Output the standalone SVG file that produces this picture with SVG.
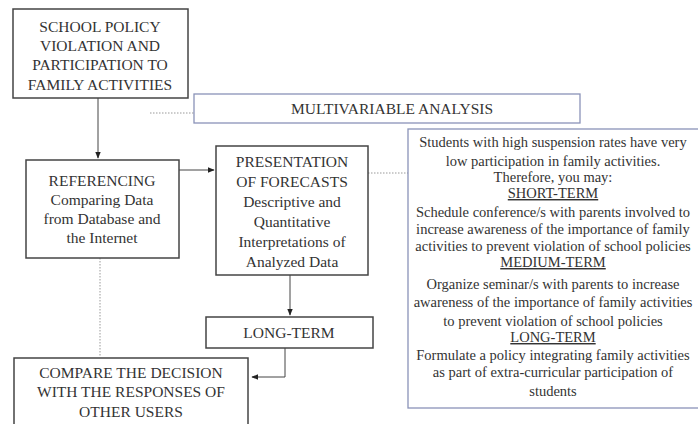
<svg xmlns="http://www.w3.org/2000/svg" width="698" height="424" viewBox="0 0 698 424">
<defs>
<style>
.box{fill:#fff;stroke:#444;stroke-width:1.5}
.bbox{fill:#fff;stroke:#8a93b8;stroke-width:1.3}
.t{font-family:'Liberation Serif','Times New Roman','DejaVu Serif',serif;font-size:15.5px;fill:#333;text-anchor:middle}
.s{font-family:'Liberation Serif','Times New Roman','DejaVu Serif',serif;font-size:14.5px;fill:#333;text-anchor:middle}
.ln{fill:none;stroke:#444;stroke-width:1}
.dot{fill:none;stroke:#999;stroke-width:1;stroke-dasharray:1.5 1.5}
</style>
<marker id="ah" viewBox="0 0 10 10" refX="9" refY="5" markerWidth="7" markerHeight="7" orient="auto">
<path d="M0,1 L10,5 L0,9 z" fill="#222"/>
</marker>
</defs>
<rect width="698" height="424" fill="#fff"/>
<g id="connectors">
<path class="ln" d="M98,98 V158" marker-end="url(#ah)"/>
<path class="ln" d="M179,170 H214" marker-end="url(#ah)"/>
<path class="ln" d="M290,275 V315" marker-end="url(#ah)"/>
<path class="ln" d="M285,348 V377 H252" stroke="#888" marker-end="url(#ah)"/>
<path class="dot" d="M150,113 H194"/>
<path class="dot" d="M368,173 H408"/>
<path class="dot" d="M100,258 V356"/>
</g>
<g id="n1">
<rect class="box" x="13" y="9" width="175" height="89" stroke-width="2"/>
<text class="t" x="100" y="32">SCHOOL POLICY</text>
<text class="t" x="100" y="51">VIOLATION AND</text>
<text class="t" x="100" y="70">PARTICIPATION TO</text>
<text class="t" x="100" y="90">FAMILY ACTIVITIES</text>
</g>
<g id="n2">
<rect class="bbox" x="194" y="94" width="386" height="29"/>
<text class="t" x="392" y="114">MULTIVARIABLE ANALYSIS</text>
</g>
<g id="n3">
<rect class="box" x="26" y="160" width="153" height="98"/>
<text class="t" x="102" y="186">REFERENCING</text>
<text class="t" x="102" y="205">Comparing Data</text>
<text class="t" x="102" y="224">from Database and</text>
<text class="t" x="102" y="243">the Internet</text>
</g>
<g id="n4">
<rect class="box" x="216" y="146" width="152" height="129"/>
<text class="t" x="292" y="167">PRESENTATION</text>
<text class="t" x="292" y="187">OF FORECASTS</text>
<text class="t" x="292" y="207">Descriptive and</text>
<text class="t" x="292" y="227">Quantitative</text>
<text class="t" x="292" y="247">Interpretations of</text>
<text class="t" x="292" y="267">Analyzed Data</text>
</g>
<g id="n5">
<rect class="bbox" x="408" y="129" width="300" height="279"/>
<text class="s" x="553" y="147">Students with high suspension rates have very</text>
<text class="s" x="553" y="166">low participation in family activities.</text>
<text class="s" x="553" y="182">Therefore, you may:</text>
<text class="s" x="553" y="198" text-decoration="underline">SHORT-TERM</text>
<text class="s" x="553" y="217">Schedule conference/s with parents involved to</text>
<text class="s" x="553" y="234">increase awareness of the importance of family</text>
<text class="s" x="553" y="251">activities to prevent violation of school policies</text>
<text class="s" x="553" y="267" text-decoration="underline">MEDIUM-TERM</text>
<text class="s" x="553" y="289">Organize seminar/s with parents to increase</text>
<text class="s" x="553" y="307">awareness of the importance of family activities</text>
<text class="s" x="553" y="326">to prevent violation of school policies</text>
<text class="s" x="553" y="342" text-decoration="underline">LONG-TERM</text>
<text class="s" x="553" y="360">Formulate a policy integrating family activities</text>
<text class="s" x="553" y="377">as part of extra-curricular participation of</text>
<text class="s" x="553" y="396">students</text>
</g>
<g id="n6">
<rect class="box" x="206" y="317" width="167" height="31"/>
<text class="t" x="289" y="338">LONG-TERM</text>
</g>
<g id="n7">
<rect class="box" x="14" y="358" width="234" height="70"/>
<text class="t" x="131" y="378">COMPARE THE DECISION</text>
<text class="t" x="131" y="397">WITH THE RESPONSES OF</text>
<text class="t" x="131" y="417">OTHER USERS</text>
</g>
</svg>
